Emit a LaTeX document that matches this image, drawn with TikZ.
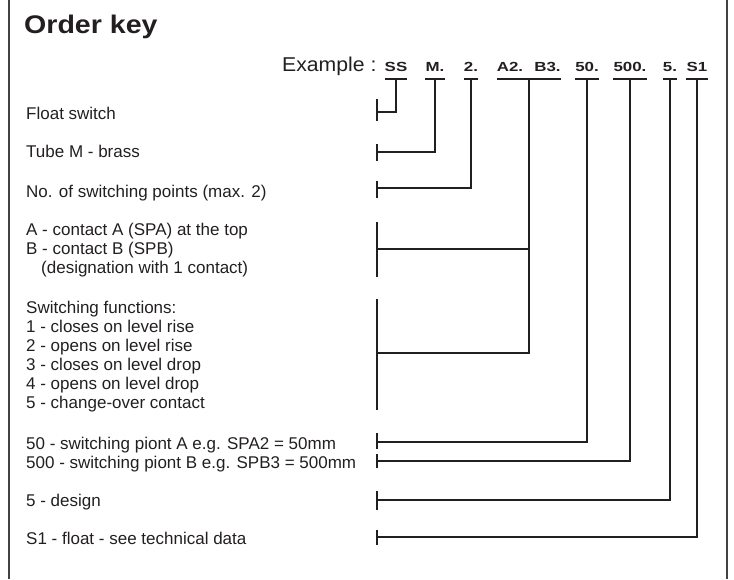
\documentclass[tikz,border=0pt]{standalone}
\usepackage{fontspec}
\setmainfont{Liberation Sans}
\newfontfamily\titlefont[FakeStretch=1.12]{Liberation Sans}
\newfontfamily\exfont[FakeStretch=1.06]{Liberation Sans}
\newfontfamily\codefont[FakeStretch=1.28]{Liberation Sans}
\usetikzlibrary{calc}
\definecolor{ink}{RGB}{35,31,32}
\begin{document}
\begin{tikzpicture}[x=1pt,y=-1pt,
  lbl/.style={anchor=base west, inner sep=0pt, text=ink, font=\fontsize{17}{19}\selectfont},
  code/.style={anchor=base, inner xsep=0pt, inner ysep=0pt, text depth=8pt, text=ink,
               font=\codefont\bfseries\fontsize{13.2}{15}\selectfont},
  conn/.style={draw=ink, line width=2pt},
  tickmark/.style={draw=ink, line width=2pt},
  frameline/.style={draw=ink!85, line width=1.2pt}]
\useasboundingbox (0,0) rectangle (734,579);
% frame
\coordinate (fl1) at (9,0); \coordinate (fl2) at (9,579);
\coordinate (fr1) at (727,0); \coordinate (fr2) at (727,579);
\draw[frameline] (fl1) -- (fl2);
\draw[frameline] (fr1) -- (fr2);
% title
\node[anchor=base west, inner sep=0pt, text=ink, font=\titlefont\bfseries\fontsize{25.5}{30}\selectfont] (title) at (24,33) {Order key};
% example line
\node[anchor=base west, inner sep=0pt, text=ink, font=\exfont\fontsize{20}{24}\selectfont] (ex) at (282,71) {Example :};
\node[code] (c1) at (396,71) {SS};
\node[code] (c2) at (435,71) {M.};
\node[code] (c3) at (471,71) {2.};
\node[code] (c4) at (510,71) {A2.};
\node[code] (c5) at (547.5,71) {B3.};
\node[code] (c6) at (587,71) {50.};
\node[code] (c7) at (630,71) {500.};
\node[code] (c8) at (670,71) {5.};
\node[code] (c9) at (697,71) {S1};
% underlines
\foreach \c in {c1,c2,c3,c6,c7,c8,c9}{\draw[conn] (\c.south west) -- (\c.south east);}
\draw[conn] (c4.south west) -- (c5.south east);
\coordinate (ab) at ($(c4.south west)!0.5!(c5.south east)$);
% labels
\node[lbl] (l1) at (26,119) {Float switch};
\node[lbl] (l2) at (26,157) {Tube M - brass};
\node[lbl] (l3) at (26,197) {No. of switching points (max. 2)};
\node[lbl] (l4a) at (26,235) {A - contact A (SPA) at the top};
\node[lbl] (l4b) at (26,254) {B - contact B (SPB)};
\node[lbl] (l4c) at (41,273) {(designation with 1 contact)};
\node[lbl] (l5a) at (26,313) {Switching functions:};
\node[lbl] (l5b) at (26,332) {1 - closes on level rise};
\node[lbl] (l5c) at (26,351) {2 - opens on level rise};
\node[lbl] (l5d) at (26,370) {3 - closes on level drop};
\node[lbl] (l5e) at (26,389) {4 - opens on level drop};
\node[lbl] (l5f) at (26,408) {5 - change-over contact};
\node[lbl] (l6) at (26,449) {50 - switching piont A e.g. SPA2 = 50mm};
\node[lbl] (l7) at (26,468) {500 - switching piont B e.g. SPB3 = 500mm};
\node[lbl] (l8) at (26,506) {5 - design};
\node[lbl] (l9) at (26,544) {S1 - float - see technical data};
% ticks (connector ends)
\coordinate (t1) at (377,112); \coordinate (t1a) at (377,99);  \coordinate (t1b) at (377,121);
\coordinate (t2) at (377,152); \coordinate (t2a) at (377,144); \coordinate (t2b) at (377,161);
\coordinate (t3) at (377,188); \coordinate (t3a) at (377,181); \coordinate (t3b) at (377,198);
\coordinate (t4) at (377,249); \coordinate (t4a) at (377,222); \coordinate (t4b) at (377,277);
\coordinate (t5) at (377,353); \coordinate (t5a) at (377,299); \coordinate (t5b) at (377,410);
\coordinate (t6) at (377,442); \coordinate (t6a) at (377,433); \coordinate (t6b) at (377,449);
\coordinate (t7) at (377,461); \coordinate (t7a) at (377,454); \coordinate (t7b) at (377,468);
\coordinate (t8) at (377,500); \coordinate (t8a) at (377,491); \coordinate (t8b) at (377,510);
\coordinate (t9) at (377,537); \coordinate (t9a) at (377,530); \coordinate (t9b) at (377,545);
\foreach \t in {t1,t2,t3,t4,t5,t6,t7,t8,t9}{\draw[tickmark] (\t a) -- (\t b);}
% connectors
\draw[conn] (c1.south) |- (t1);
\draw[conn] (c2.south) |- (t2);
\draw[conn] (c3.south) |- (t3);
\draw[conn] (ab) |- (t4);
\draw[conn] (ab) |- (t5);
\draw[conn] (c6.south) |- (t6);
\draw[conn] (c7.south) |- (t7);
\draw[conn] (c8.south) |- (t8);
\draw[conn] (c9.south) |- (t9);
\end{tikzpicture}
\end{document}
